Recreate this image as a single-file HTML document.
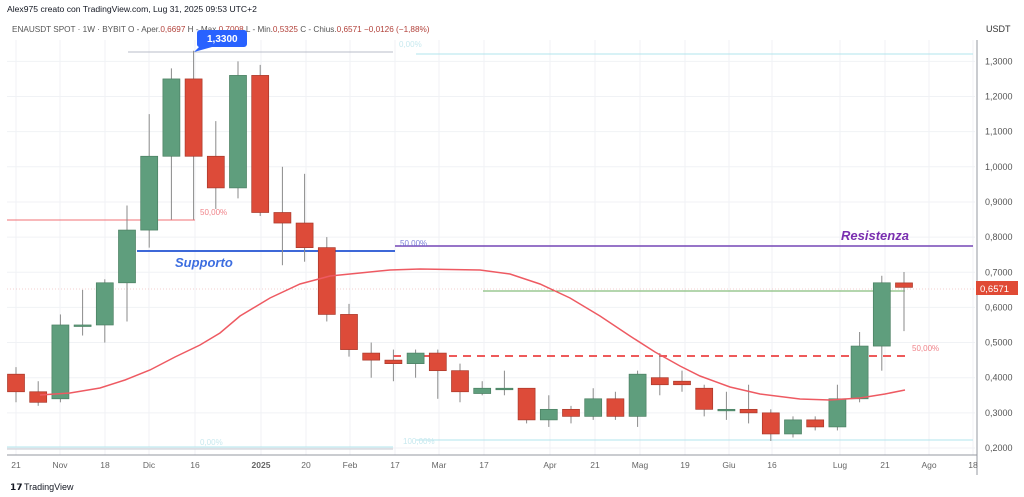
<!DOCTYPE html>
<html><head><meta charset="utf-8"><style>
body{margin:0;background:#fff;font-family:"Liberation Sans",sans-serif;}
svg{display:block}
</style></head><body>
<svg id="s" width="1024" height="497" xmlns="http://www.w3.org/2000/svg" font-family="Liberation Sans, sans-serif">
<rect width="1024" height="497" fill="#fff"/>
<g id="grid" stroke="#f0f2f5" stroke-width="1"></g>
<text x="7" y="12" font-size="8.6" fill="#131722">Alex975 creato con TradingView.com, Lug 31, 2025 09:53 UTC+2</text>
<text x="12" y="32" font-size="8.2" fill="#555"><tspan>ENAUSDT SPOT · 1W · BYBIT  O - Aper.</tspan><tspan fill="#b2413a">0,6697</tspan><tspan>  H - Max.</tspan><tspan fill="#b2413a">0,7008</tspan><tspan>  L - Min.</tspan><tspan fill="#b2413a">0,5325</tspan><tspan>  C - Chius.</tspan><tspan fill="#b2413a">0,6571  −0,0126 (−1,88%)</tspan></text>
<text x="986" y="32" font-size="9" fill="#333">USDT</text>
<line x1="128" y1="52" x2="393" y2="52" stroke="#b8bcc8"/>
<line x1="416" y1="54" x2="973" y2="54" stroke="#b2e4ec"/>
<text x="399" y="47" font-size="8" fill="#c8e9ef">0,00%</text>
<line x1="7" y1="449" x2="393" y2="449" stroke="#c6cad2"/>
<line x1="7" y1="447" x2="393" y2="447" stroke="#b2e4ec"/>
<text x="200" y="445" font-size="8" fill="#c8e9ef">0,00%</text>
<line x1="416" y1="440" x2="973" y2="440" stroke="#b2e4ec"/>
<text x="403" y="444" font-size="8" fill="#c8e9ef">100,00%</text>
<line x1="7" y1="220" x2="195" y2="220" stroke="#f07075"/>
<text x="200" y="215" font-size="8" fill="#f0848a">50,00%</text>
<line x1="137" y1="251" x2="395" y2="251" stroke="#3d68d8" stroke-width="2"/>
<text x="175" y="267" font-size="13" font-weight="bold" font-style="italic" fill="#3d6ee0">Supporto</text>
<line x1="395" y1="246" x2="973" y2="246" stroke="#7547b5" stroke-width="1.5"/>
<text x="400" y="246" font-size="8" fill="#7b7fd8">50,00%</text>
<text x="841" y="240" font-size="13" font-weight="bold" font-style="italic" fill="#7a2fb0">Resistenza</text>
<line x1="483" y1="291" x2="905" y2="291" stroke="#6aae5c" stroke-width="1"/>
<line x1="393" y1="356" x2="905" y2="356" stroke="#ee5a5a" stroke-width="2" stroke-dasharray="8,6"/>
<text x="912" y="351" font-size="8" fill="#f0848a">50,00%</text>
<line x1="7" y1="289" x2="975" y2="289" stroke="#e8a0a0" stroke-width="0.6" stroke-dasharray="1,2"/>
<g id="candles"></g>
<path d="M40,395 L70,393 L100,388 L125,380 L150,370 L175,357 L200,345 L220,333 L240,316 L270,298 L300,284 L330,276 L360,273 L390,270 L420,269 L480,270 L510,274 L540,284 L570,298 L600,316 L630,336 L655,352 L680,366 L700,376 L730,387 L760,394 L800,399 L830,400 L860,398 L885,394 L905,390" fill="none" stroke="#ee5a62" stroke-width="1.5"/>
<path d="M200,30 h44 a3,3 0 0 1 3,3 v11 a3,3 0 0 1 -3,3 h-32 l-18,5 l5,-5 a3,3 0 0 1 -2,-3 v-11 a3,3 0 0 1 3,-3z" fill="#2962ff"/>
<text x="207" y="42" font-size="10" font-weight="bold" fill="#fff">1,3300</text>
<line x1="7" y1="455" x2="977" y2="455" stroke="#9598a1"/>
<line x1="977" y1="40" x2="977" y2="475" stroke="#9598a1"/>
<g id="yl" font-size="9" fill="#555"></g>
<rect x="976" y="281" width="42" height="14" fill="#e04a35"/>
<text x="980" y="292" font-size="9.5" fill="#fff">0,6571</text>
<g id="xl" font-size="8.5" fill="#666" text-anchor="middle"></g>
<text x="10" y="490" font-size="9" font-weight="bold" fill="#131722">𝟭𝟳</text>
<text x="24" y="490" font-size="9" fill="#131722">TradingView</text>
</svg>
<script>
const NS="http://www.w3.org/2000/svg";
function el(p,t,a,tx){const e=document.createElementNS(NS,t);for(const k in a)e.setAttribute(k,a[k]);if(tx)e.textContent=tx;document.getElementById(p).appendChild(e);}
const Y=p=>448-(p-0.2)*351.5;
for(let i=0;i<12;i++){const p=0.2+i*0.1;el('grid','line',{x1:7,x2:975,y1:Y(p),y2:Y(p)});el('yl','text',{x:985,y:Y(p)+3},p.toFixed(4).replace('.',','));}
const xs=[[16,'21'],[60,'Nov'],[105,'18'],[149,'Dic'],[195,'16'],[261,'2025'],[306,'20'],[350,'Feb'],[395,'17'],[439,'Mar'],[484,'17'],[550,'Apr'],[595,'21'],[640,'Mag'],[685,'19'],[729,'Giu'],[772,'16'],[840,'Lug'],[885,'21'],[929,'Ago'],[973,'18']];
xs.forEach(([x,t])=>{el('grid','line',{x1:x,x2:x,y1:40,y2:455});el('xl','text',{x:x,y:468,'font-weight':t=='2025'?'bold':'normal'},t);});
const c=[[.41,.36,.43,.33],[.36,.33,.39,.32],[.34,.55,.58,.33],[.55,.55,.65,.52],[.55,.67,.68,.50],[.67,.82,.89,.56],[.82,1.03,1.15,.77],[1.03,1.25,1.28,.85],[1.25,1.03,1.33,.85],[1.03,.94,1.13,.88],[.94,1.26,1.30,.91],[1.26,.87,1.29,.86],[.87,.84,1.0,.72],[.84,.77,.98,.73],[.77,.58,.80,.56],[.58,.48,.61,.46],[.47,.45,.50,.40],[.45,.44,.48,.39],[.44,.47,.48,.40],[.47,.42,.48,.34],[.42,.36,.44,.33],[.355,.37,.39,.35],[.37,.37,.42,.35],[.37,.28,.37,.27],[.28,.31,.35,.26],[.31,.29,.32,.27],[.29,.34,.37,.28],[.34,.29,.36,.28],[.29,.41,.42,.26],[.40,.38,.47,.35],[.39,.38,.42,.36],[.37,.31,.38,.29],[.31,.31,.36,.28],[.31,.30,.38,.27],[.30,.24,.31,.22],[.24,.28,.29,.23],[.28,.26,.29,.25],[.26,.34,.38,.25],[.34,.49,.53,.33],[.49,.67,.69,.42],[.6697,.6571,.7008,.5325]];
c.forEach((d,i)=>{const x=16+i*22.2;const[o,cl,h,l]=d;const up=cl>=o;const col=up?'#5f9e7d':'#dd4b39';const bd=up?'#4a7f62':'#a8382a';
el('candles','line',{x1:x,x2:x,y1:Y(h),y2:Y(l),stroke:'#8a8a8a','stroke-width':1});
const t=Math.min(Y(o),Y(cl)),hh=Math.max(1.5,Math.abs(Y(o)-Y(cl)));
el('candles','rect',{x:x-8.5,y:t,width:17,height:hh,fill:col,stroke:bd,'stroke-width':0.7});});
</script>
</body></html>
